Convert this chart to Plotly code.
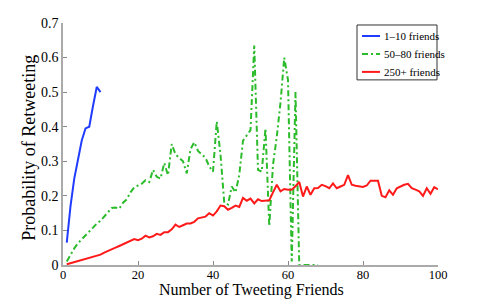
import plotly.graph_objects as go

# ---- data ----
x_blue = list(range(1, 11))
blue = [0.065, 0.17, 0.25, 0.30, 0.36, 0.395, 0.40, 0.46, 0.515, 0.50]

x_green = list(range(1, 69))
green = [0.01, 0.03, 0.048, 0.063, 0.075, 0.088, 0.097, 0.108, 0.12, 0.128,
         0.14, 0.155, 0.165, 0.166, 0.163, 0.18, 0.19, 0.21, 0.225, 0.23,
         0.235, 0.245, 0.24, 0.275, 0.255, 0.25, 0.295, 0.26, 0.35, 0.32,
         0.31, 0.30, 0.265, 0.335, 0.355, 0.33, 0.32, 0.31, 0.285, 0.27,
         0.415, 0.32, 0.18, 0.175, 0.227, 0.21, 0.26, 0.36, 0.375, 0.39,
         0.635, 0.275, 0.27, 0.395, 0.112, 0.29, 0.37, 0.47, 0.60, 0.535,
         0.01, 0.50, 0.0, 0.0, 0.0, 0.0, 0.0, 0.0]

x_red = list(range(1, 101))
red = [0.002, 0.005, 0.008, 0.012, 0.015, 0.018, 0.022, 0.025, 0.028, 0.03,
       0.036, 0.04, 0.045, 0.05, 0.055, 0.06, 0.067, 0.07, 0.075, 0.072,
       0.076, 0.085, 0.08, 0.083, 0.09, 0.087, 0.095, 0.095, 0.103, 0.117,
       0.11, 0.115, 0.12, 0.12, 0.125, 0.135, 0.138, 0.14, 0.15, 0.143,
       0.155, 0.172, 0.17, 0.16, 0.165, 0.172, 0.168, 0.194, 0.186, 0.192,
       0.178, 0.19, 0.185, 0.186, 0.187, 0.21, 0.232, 0.213, 0.22, 0.218,
       0.218, 0.228, 0.24, 0.198, 0.227, 0.203, 0.222, 0.223, 0.232, 0.228,
       0.222, 0.236, 0.222, 0.227, 0.232, 0.26, 0.232, 0.229, 0.228, 0.226,
       0.23, 0.244, 0.244, 0.244, 0.2, 0.196, 0.216, 0.203, 0.222, 0.228,
       0.232, 0.235, 0.222, 0.218, 0.213, 0.2, 0.222, 0.206, 0.225, 0.219]

names = ["1–10 friends", "50–80 friends", "250+ friends"]
colors = ["#1f3cff", "#2bbb2b", "#ff1a1a"]

x_ticks = [0, 20, 40, 60, 80, 100]
y_ticks = [0, 0.1, 0.2, 0.3, 0.4, 0.5, 0.6, 0.7]
y_ticklabels = ["0", "0.1", "0.2", "0.3", "0.4", "0.5", "0.6", "0.7"]
x_title = "Number of Tweeting Friends"
y_title = "Probability of Retweeting"

FONT = "Liberation Serif, Times New Roman, serif"
DASHDOT = "6px,3px,2px,3px"

fig = go.Figure()
fig.add_trace(go.Scatter(x=x_blue, y=blue, mode="lines", name=names[0],
                         line=dict(color=colors[0], width=2)))
fig.add_trace(go.Scatter(x=x_green, y=green, mode="lines", name=names[1],
                         line=dict(color=colors[1], width=2, dash=DASHDOT)))
fig.add_trace(go.Scatter(x=x_red, y=red, mode="lines", name=names[2],
                         line=dict(color=colors[2], width=2)))

# the page body has an 8px margin; lay out in page pixels, then shift
OFF = 8
W, H = 485 - OFF, 301 - OFF
PL, PR, PT, PB = 63, 438, 23, 265.5          # plot area in page pixels
L, T = PL - OFF, PT - OFF
R, B = W - (PR - OFF), H - (PB - OFF)
pw, ph = PR - PL, PB - PT

def px(xp):
    return (xp - PL) / pw

def py(yp):
    return 1 - (yp - PT) / ph

# manual legend
shapes = [dict(type="rect", xref="paper", yref="paper",
               x0=px(357), x1=px(437), y0=py(80), y1=py(25),
               line=dict(color="#333333", width=1), fillcolor="white", layer="above")]
annotations = []
rows = [36, 54, 72]
dashes = ["solid", DASHDOT, "solid"]
for i in range(3):
    shapes.append(dict(type="line", xref="paper", yref="paper",
                       x0=px(362), x1=px(380), y0=py(rows[i]), y1=py(rows[i]),
                       line=dict(color=colors[i], width=2, dash=dashes[i]), layer="above"))
    annotations.append(dict(xref="paper", yref="paper", x=px(382), y=py(rows[i]),
                            text=names[i], showarrow=False, xanchor="left", yanchor="middle",
                            font=dict(family=FONT, size=11, color="black")))

# axis titles
annotations.append(dict(xref="paper", yref="paper", x=px(251), y=py(301),
                        text=x_title, showarrow=False, xanchor="center", yanchor="bottom",
                        borderpad=0,
                        font=dict(family=FONT, size=16, color="black")))
annotations.append(dict(xref="paper", yref="paper", x=px(29), y=py(148),
                        text=y_title, showarrow=False, xanchor="center", yanchor="middle",
                        textangle=-90, font=dict(family=FONT, size=18, color="black")))

fig.update_layout(
    width=W, height=H,
    margin=dict(l=L, r=R, t=T, b=B, pad=0),
    paper_bgcolor="white", plot_bgcolor="white",
    showlegend=False,
    font=dict(family=FONT, size=13, color="black"),
    shapes=shapes, annotations=annotations,
    xaxis=dict(range=[0, 100], tickvals=x_ticks, ticks="inside", ticklen=4,
               tickcolor="#888888", showline=True, linecolor="#aaaaaa", linewidth=1.5,
               showgrid=False, zeroline=False, tickfont=dict(size=12.5),
               ticklabelstandoff=-3, automargin=False),
    yaxis=dict(range=[0, 0.7], tickvals=y_ticks, ticktext=y_ticklabels, ticks="inside",
               ticklen=4, tickcolor="#888888", showline=True, linecolor="#aaaaaa",
               linewidth=1.5, showgrid=False, zeroline=False, tickfont=dict(size=14),
               automargin=False),
)

fig.write_html("out.html")
